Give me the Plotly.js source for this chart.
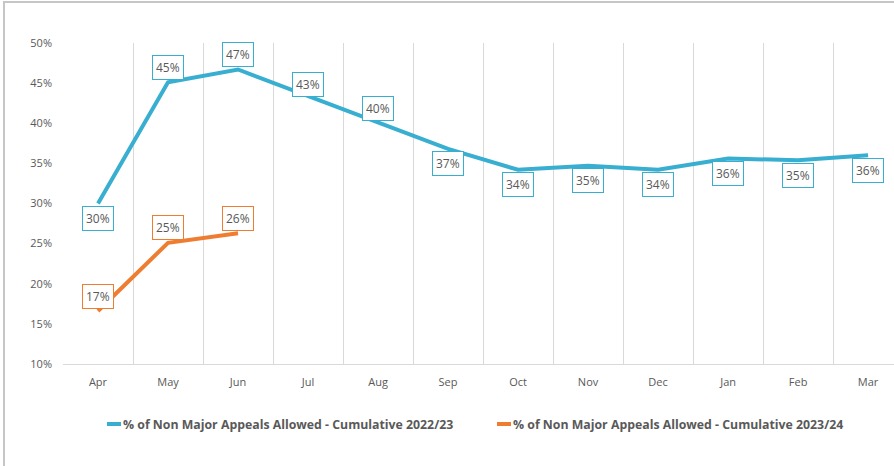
<!DOCTYPE html>
<html>
<head>
<meta charset="utf-8">
<script src="https://cdn.plot.ly/plotly-3.0.1.min.js"></script>
<style>
  html, body { margin: 0; padding: 0; background: #fff; }
  #wrap { position: relative; width: 894px; height: 466px; overflow: hidden; }
  #chart { position: absolute; left: 0; top: 0; width: 894px; height: 466px; }
  #frame { position: absolute; left: 3px; top: 1px; width: 900px; height: 470px;
           border-left: 2px solid #c6c6c6; border-top: 2px solid #c6c6c6; pointer-events: none; }
</style>
</head>
<body>
<div id="wrap">
  <div id="chart"></div>
  <div id="frame"></div>
</div>
<script>
// ---- data ----
const months = ["Apr","May","Jun","Jul","Aug","Sep","Oct","Nov","Dec","Jan","Feb","Mar"];
const series2223Name = "% of Non Major Appeals Allowed - Cumulative 2022/23";
const series2324Name = "% of Non Major Appeals Allowed - Cumulative 2023/24";
const values2223 = [30.0, 45.1, 46.7, 43.4, 40.0, 36.8, 34.2, 34.7, 34.2, 35.6, 35.4, 36.0];
const values2324 = [16.6, 25.1, 26.3];
// data label placement (Excel-style: above / below the point)
const labelPos2223 = ["below","above","above","above","above","below","below","below","below","below","below","below"];
const labelPos2324 = ["above","above","above"];
const yTicks = [10, 15, 20, 25, 30, 35, 40, 45, 50];

const blue = "#38AED1";
const orange = "#EE7D31";
const grey = "#595959";

const W = 894, H = 466;
const M = { l: 63, r: 0, t: 43, b: 102 };
const pw = W - M.l - M.r, ph = H - M.t - M.b;
const px = x => (x - M.l) / pw;          // pixel -> paper x
const py = y => (H - M.b - y) / ph;      // pixel -> paper y

const traces = [
  { x: months, y: values2223, name: series2223Name, type: "scatter", mode: "lines",
    line: { color: blue, width: 4 } },
  { x: months.slice(0, values2324.length), y: values2324, name: series2324Name, type: "scatter", mode: "lines",
    line: { color: orange, width: 4 } }
];

function labels(xs, ys, pos, color) {
  return ys.map((v, i) => ({
    x: xs[i], y: v, xref: "x", yref: "y",
    text: Math.round(v) + "%",
    showarrow: false,
    yshift: pos[i] === "above" ? (i === 3 ? 11 : 15) : -15,
    bgcolor: "#ffffff", bordercolor: color, borderwidth: 1, borderpad: 3,
    font: { family: "Open Sans", size: 12, color: grey }
  }));
}

// custom legend (short Excel-style swatches)
const legendItems = [
  { name: series2223Name, color: blue, x0: 107 },
  { name: series2324Name, color: orange, x0: 497 }
];
const legendY = 424;
const legendShapes = legendItems.map(it => ({
  type: "line", xref: "paper", yref: "paper",
  x0: px(it.x0), x1: px(it.x0 + 14), y0: py(legendY), y1: py(legendY),
  line: { color: it.color, width: 4 }
}));
const legendTexts = legendItems.map(it => ({
  xref: "paper", yref: "paper", x: px(it.x0 + 14), y: py(legendY),
  xanchor: "left", yanchor: "middle", showarrow: false, text: "<b>" + it.name + "</b>",
  font: { family: "Open Sans", size: 12.3, color: grey }
}));

const annotations = [].concat(
  labels(months, values2223, labelPos2223, blue),
  labels(months, values2324, labelPos2324, orange),
  legendTexts
);

const layout = {
  width: W, height: H,
  margin: M,
  paper_bgcolor: "rgba(0,0,0,0)", plot_bgcolor: "#ffffff",
  showlegend: false,
  xaxis: { type: "category", range: [-0.5, 11.37], tickson: "boundaries",
           showgrid: true, gridcolor: "#d9d9d9", gridwidth: 1,
           showline: true, linecolor: "#d9d9d9", linewidth: 1,
           ticks: "", zeroline: false, fixedrange: true, ticklabelstandoff: 8,
           tickfont: { family: "Open Sans", size: 11, color: grey } },
  yaxis: { range: [10, 50], tickvals: yTicks, ticktext: yTicks.map(t => t + "%"),
           showgrid: false, zeroline: false, showline: false, ticks: "",
           ticklabelstandoff: 10, fixedrange: true,
           tickfont: { family: "Open Sans", size: 11, color: grey } },
  shapes: legendShapes,
  annotations: annotations
};

Plotly.newPlot("chart", traces, layout, { displayModeBar: false, staticPlot: true });
</script>
</body>
</html>
